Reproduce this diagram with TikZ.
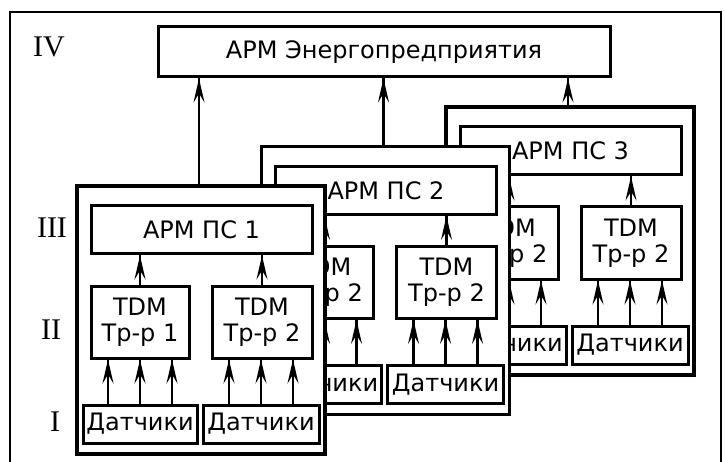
\documentclass[tikz,border=0pt]{standalone}
\usepackage{fontspec}
\setmainfont{DejaVu Sans}
\newfontfamily\romfont{Liberation Serif}
\usetikzlibrary{arrows.meta}
\tikzset{
  panelbox/.style={draw, line width=3.5pt, fill=white, inner sep=0pt},
  blk/.style={draw, line width=3pt, fill=white, inner sep=0pt, align=center,
    font=\fontsize{24}{26}\selectfont},
  arr/.style={line width=2.5pt,
    postaction={draw, line width=2.2pt, -{Stealth[open,length=24pt,width=11pt,inset=9pt]}}},
  lvl/.style={font=\romfont\fontsize{30}{30}\selectfont},
  frame/.style={line width=2pt},
}
\newcommand\mkpanel[4]{%
  \begin{scope}[shift={(#2,#3)}]
    \node[panelbox, minimum width=248pt, minimum height=268pt] (panel#1) at (201,320) {};
    \node[blk, minimum width=221pt, minimum height=48pt] (arm#1) at (201.5,230) {АРМ ПС #1};
    \node[blk, minimum width=98pt, minimum height=72pt] (tdma#1) at (140,322) {TDM\\Тр-р #4};
    \node[blk, minimum width=100pt, minimum height=72pt] (tdmb#1) at (262,322) {TDM\\Тр-р 2};
    \node[blk, minimum width=114pt, minimum height=38pt] (data#1) at (140,424) {Датчики};
    \node[blk, minimum width=116pt, minimum height=38pt] (datb#1) at (261,424) {Датчики};
    \draw[arr] (tdma#1.north) -- (tdma#1.north |- arm#1.south);
    \draw[arr] (tdmb#1.north) -- (tdmb#1.north |- arm#1.south);
    \foreach \s in {-32,0,32}{
      \draw[arr] ([xshift=\s pt]data#1.north) -- ([xshift=\s pt]data#1.north |- tdma#1.south);
      \draw[arr] ([xshift=\s pt]datb#1.north) -- ([xshift=\s pt]datb#1.north |- tdmb#1.south);
    }
  \end{scope}
  \draw[arr] ([xshift=-2pt]panel#1.north) -- ([xshift=-2pt]panel#1.north |- top.south);
}
\begin{document}
\begin{tikzpicture}[x=1pt,y=-1pt]
  \useasboundingbox (0,0) rectangle (725,462);
  \draw[frame] (10,462) |- (721,12.5) -- (721,462);
  \node[lvl] (l4) at (49,47) {IV};
  \node[lvl] (l3) at (52,228) {III};
  \node[lvl] (l2) at (51,330) {II};
  \node[lvl] (l1) at (55,422) {I};
  \node[blk, minimum width=452pt, minimum height=50pt] (top) at (384,52) {АРМ Энергопредприятия};
  \mkpanel{3}{369}{-79}{2}
  \mkpanel{2}{184.5}{-39.5}{2}
  \mkpanel{1}{0}{0}{1}
\end{tikzpicture}
\end{document}
